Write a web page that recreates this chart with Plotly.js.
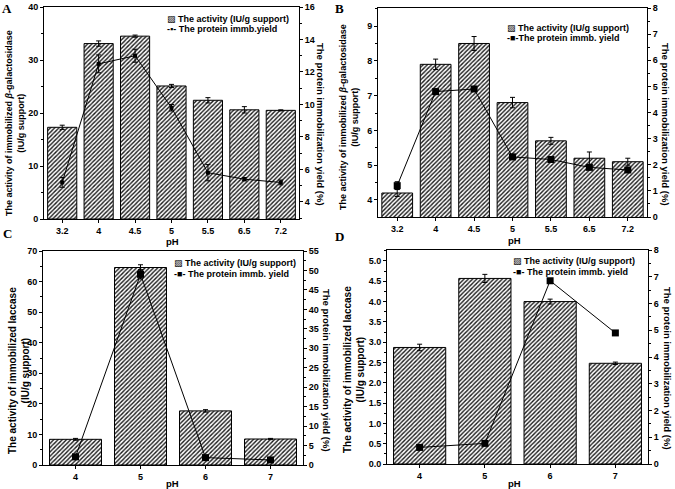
<!DOCTYPE html>
<html>
<head>
<meta charset="utf-8">
<script src="https://cdn.plot.ly/plotly-3.0.1.min.js"></script>
<style>html,body{margin:0;padding:0;background:#fff;}#chart{width:675px;height:489px;}</style>
</head>
<body>
<div id="chart"></div>
<script>
// ---- Data ----
const pHAB = ["3.2", "4", "4.5", "5", "5.5", "6.5", "7.2"];
const pHCD = ["4", "5", "6", "7"];

const activityA = [17.3, 33.1, 34.5, 25.1, 22.4, 20.6, 20.5];
const activityAErr = [0.4, 0.5, 0.2, 0.3, 0.5, 0.6, 0.1];
const yieldA = [5.2, 12.5, 13.0, 9.8, 5.8, 5.4, 5.2];
const yieldAErr = [0.3, 0.55, 0.4, 0.2, 0.5, 0.1, 0.15];

const activityB = [4.2, 7.9, 8.5, 6.8, 5.7, 5.2, 5.1];
const activityBErr = [0.1, 0.15, 0.2, 0.15, 0.1, 0.18, 0.1];
const yieldB = [1.2, 4.8, 4.9, 2.3, 2.2, 1.9, 1.8];
const yieldBErr = [0.15, 0.1, 0.08, 0.1, 0.1, 0.08, 0.08];

const activityC = [8.4, 64.6, 17.7, 8.5];
const activityCErr = [0.3, 0.9, 0.4, 0.2];
const yieldC = [2.1, 49.0, 1.9, 1.3];
const yieldCErr = [0.5, 1.2, 0.3, 0.3];

const activityD = [2.87, 4.57, 4.0, 2.48];
const activityDErr = [0.08, 0.1, 0.06, 0.03];
const yieldD = [0.62, 0.77, 6.85, 4.9];

const legendBar = "The activity (IU/g support)";
const legendLineA = "The protein immb.yield";
const legendLine = "The protein immb. yield";

// ---- Styling helpers ----
const FONT = "Liberation Sans, Arial, DejaVu Sans, sans-serif";
const SERIF = "Liberation Serif, Times New Roman, serif";
const W = 675, H = 489;
const px = v => v / W;
const py = v => 1 - v / H;
const tickFont = {family: FONT, size: 9, color: "#000", weight: "bold"};

function barTrace(x, y, err, xa, ya) {
  return {
    type: "bar", x: x, y: y, xaxis: xa, yaxis: ya, showlegend: false,
    marker: {color: "#fff", line: {color: "#000", width: 1},
      pattern: {shape: "/", size: 3, solidity: 0.45, fgcolor: "#1a1a1a", bgcolor: "#fff"}},
    error_y: {type: "data", array: err, visible: true, color: "#000", thickness: 1, width: 2.5}
  };
}
function lineTrace(x, y, err, xa, ya, msize) {
  const t = {
    type: "scatter", mode: "lines+markers", x: x, y: y, xaxis: xa, yaxis: ya, showlegend: false,
    line: {color: "#000", width: 1}, marker: {symbol: "square", size: msize, color: "#000"}
  };
  if (err) t.error_y = {type: "data", array: err, visible: true, color: "#000", thickness: 1, width: 2.5};
  return t;
}
function xAxis(dom, anchor, n) {
  return {domain: dom, anchor: anchor, type: "category", range: [-0.5, n - 0.5],
    showline: true, linecolor: "#000", linewidth: 1, mirror: true,
    ticks: "outside", ticklen: 3, tickcolor: "#000", tickfont: tickFont,
    showgrid: false, zeroline: false, fixedrange: true};
}
function yAxis(dom, anchor, range, dtick, fmt) {
  const a = {domain: dom, anchor: anchor, range: range, dtick: dtick,
    showline: true, linecolor: "#000", linewidth: 1,
    ticks: "outside", ticklen: 3, tickcolor: "#000", tickfont: tickFont,
    minor: {ticks: "outside", ticklen: 2, tickcolor: "#000", dtick: dtick / 2},
    showgrid: false, zeroline: false, fixedrange: true};
  if (fmt) a.tickformat = fmt;
  return a;
}
function y2Axis(over, anchor, range, dtick) {
  return {overlaying: over, anchor: anchor, side: "right", range: range, dtick: dtick,
    showline: true, linecolor: "#000", linewidth: 1,
    ticks: "outside", ticklen: 3, tickcolor: "#000", tickfont: tickFont,
    minor: {ticks: "outside", ticklen: 2, tickcolor: "#000", dtick: dtick / 2},
    showgrid: false, zeroline: false, fixedrange: true};
}

const data = [
  barTrace(pHAB, activityA, activityAErr, "x", "y"),
  lineTrace(pHAB, yieldA, yieldAErr, "x", "y5", 4),
  barTrace(pHAB, activityB, activityBErr, "x2", "y2"),
  lineTrace(pHAB, yieldB, yieldBErr, "x2", "y6", 7),
  barTrace(pHCD, activityC, activityCErr, "x3", "y3"),
  lineTrace(pHCD, yieldC, yieldCErr, "x3", "y7", 7),
  barTrace(pHCD, activityD, activityDErr, "x4", "y4"),
  lineTrace(pHCD, yieldD, null, "x4", "y8", 7)
];

function ann(text, x, y, size, angle, extra) {
  return Object.assign({text: text, x: px(x), y: py(y), xref: "paper", yref: "paper",
    showarrow: false, textangle: angle || 0, xanchor: "center", yanchor: "middle",
    font: {family: FONT, size: size, color: "#000", weight: "bold"}}, extra || {});
}
function legendAnn(text, x, y) {
  return ann(text, x, y, 9, 0, {xanchor: "left"});
}
function letter(t, x, y) {
  return ann(t, x, y, 13, 0, {font: {family: SERIF, size: 13, color: "#000", weight: "bold"}});
}

const annotations = [
  // panel letters
  letter("A", 7, 8), letter("B", 340, 8), letter("C", 7, 233), letter("D", 340, 236),
  // x titles
  ann("pH", 172, 241, 9.5),
  ann("pH", 514, 240, 9.5),
  ann("pH", 172, 483, 9.5),
  ann("pH", 514, 483, 9.5),
  // left titles
  ann("The activity of immobilized <i>β</i>-galactosidase<br>(IU/g support)", 15, 123, 9, -90),
  ann("The activity of immobilized <i>β</i>-galactosidase<br>(IU/g support)", 349, 117, 9, -90),
  ann("The activity of immobilized laccase<br>(IU/g support)", 19, 371, 10, -90),
  ann("The activity of immobilized laccase<br>(IU/g support)", 354, 370, 10, -90),
  // right titles
  ann("The protein immobilization yield (%)", 320, 124, 9.5, 90),
  ann("The protein immobilization yield (%)", 665, 124, 9.5, 90),
  ann("The protein immobilization yield (%)", 327, 370, 9.5, 90),
  ann("The protein immobilization yield (%)", 668, 368, 9.5, 90),
  // legends
  legendAnn("▨ " + legendBar, 165, 19),
  legendAnn("-▪- " + legendLineA, 165, 29),
  legendAnn("▨ " + legendBar, 505, 28),
  legendAnn("-■-" + legendLine, 505, 38),
  legendAnn("▨ " + legendBar, 172, 263),
  legendAnn("-■- " + legendLine, 172, 274),
  legendAnn("▨ " + legendBar, 511, 261),
  legendAnn("-■- " + legendLine, 511, 272)
];

const layout = {
  width: W, height: H,
  margin: {l: 0, r: 0, t: 0, b: 0},
  paper_bgcolor: "#fff", plot_bgcolor: "#fff",
  showlegend: false, bargap: 0.2,
  font: {family: FONT, color: "#000"},
  xaxis: xAxis([px(44), px(299)], "y", pHAB.length),
  yaxis: yAxis([py(219), py(7)], "x", [0, 40], 10),
  yaxis5: y2Axis("y", "x", [2.95, 16], 2),
  xaxis2: xAxis([px(378), px(647)], "y2", pHAB.length),
  yaxis2: yAxis([py(217), py(8)], "x2", [3.51, 9.52], 1),
  yaxis6: y2Axis("y2", "x2", [0, 8], 1),
  xaxis3: xAxis([px(43), px(303)], "y3", pHCD.length),
  yaxis3: yAxis([py(465), py(251)], "x3", [0, 70], 10),
  yaxis7: y2Axis("y3", "x3", [0, 55], 5),
  xaxis4: xAxis([px(387), px(648)], "y4", pHCD.length),
  yaxis4: yAxis([py(464), py(250)], "x4", [0, 5.27], 0.5, ".1f"),
  yaxis8: y2Axis("y4", "x4", [0, 8], 1),
  annotations: annotations
};

Plotly.newPlot("chart", data, layout, {staticPlot: true, displayModeBar: false});
</script>
</body>
</html>
